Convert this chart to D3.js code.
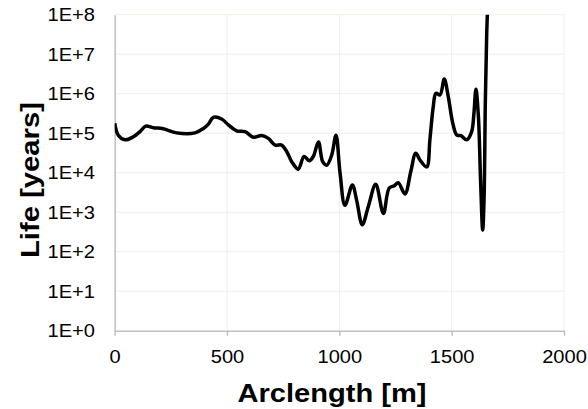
<!DOCTYPE html>
<html><head><meta charset="utf-8">
<script src="https://cdn.jsdelivr.net/npm/d3@7"></script>
<style>body{margin:0;background:#fff}svg{display:block}</style>
</head><body>
<script>
const arclength = [0,16,46,83,113,138,172,216,276,357,395,417,439,476,506,543,580,617,654,684,714,743,766,788,817,843,866,884,907,926,944,966,985,1003,1025,1058,1077,1102,1129,1162,1196,1222,1245,1262,1292,1318,1340,1359,1389,1403,1418,1430,1448,1467,1485,1505,1523,1541,1567,1589,1599,1608,1619,1629,1638,1644,1650,1656,1662];
const life = [178000,89000,68000,81000,110000,151000,138000,129000,102000,102000,132000,170000,251000,229000,162000,115000,110000,79000,87000,74000,50000,50000,34000,19000,12300,25700,20000,25700,60000,19000,15500,28000,89000,10000,1500,4900,2000,480,1400,5100,930,4100,4700,5600,2900,10700,31000,21000,14000,68000,470000,1020000,930000,2340000,830000,178000,89000,87000,68000,110000,316000,1290000,263000,5400,355,2000,690000,34000000,300000000];
const xTicks = [0,500,1000,1500,2000];
const yTicks = [1,10,100,1000,1e4,1e5,1e6,1e7,1e8];
const yTickLabels = ["1E+0","1E+1","1E+2","1E+3","1E+4","1E+5","1E+6","1E+7","1E+8"];

const W=588,H=409;
const m={l:114.7,r:564,t:14.7,b:330.7};
const svg=d3.select("body").append("svg").attr("width",W).attr("height",H);
const x=d3.scaleLinear().domain([0,2000]).range([m.l,m.r]);
const y=d3.scaleLog().domain([1,1e8]).range([m.b,m.t]);
const font="Liberation Sans, Arial, sans-serif";

function stretch(sel,k){
  sel.each(function(){const L=this.getComputedTextLength();
    d3.select(this).attr("textLength",L*k).attr("lengthAdjust","spacingAndGlyphs");});
}

// gridlines
svg.append("g").selectAll("line").data(yTicks.slice(1)).join("line")
  .attr("x1",m.l).attr("x2",m.r).attr("y1",d=>y(d)).attr("y2",d=>y(d))
  .attr("stroke","#efefe8").attr("stroke-width",1);
svg.append("g").selectAll("line").data(xTicks.slice(1)).join("line")
  .attr("x1",d=>x(d)).attr("x2",d=>x(d)).attr("y1",m.t).attr("y2",m.b)
  .attr("stroke","#efefe8").attr("stroke-width",1);

// x axis
const xa=svg.append("g").attr("transform",`translate(0,${m.b})`)
  .call(d3.axisBottom(x).tickValues(xTicks).tickFormat(d3.format("d")).tickSizeInner(5).tickSizeOuter(0).tickPadding(14));
xa.select(".domain").attr("stroke","#bfbfbf").attr("stroke-width",1.5);
xa.selectAll(".tick line").attr("stroke","#bfbfbf").attr("stroke-width",1.5);
xa.selectAll("text").attr("font-family",font).attr("font-size",18.6).attr("fill","#000");
stretch(xa.selectAll("text"),1.08);

// y axis
const ya=svg.append("g").attr("transform",`translate(${m.l},0)`)
  .call(d3.axisLeft(y).tickValues(yTicks).tickFormat((d,i)=>yTickLabels[i]).tickSize(0).tickPadding(19.7));
ya.select(".domain").attr("stroke","#bfbfbf").attr("stroke-width",1.5);
ya.selectAll("text").attr("font-family",font).attr("font-size",18.6).attr("fill","#000");
stretch(ya.selectAll("text"),1.08);

// clip
svg.append("clipPath").attr("id","clip").append("rect")
  .attr("x",m.l).attr("y",m.t).attr("width",m.r-m.l).attr("height",m.b-m.t);

const line=d3.line().x((d,i)=>x(arclength[i])).y(d=>y(d)).curve(d3.curveCatmullRom.alpha(0.5));
svg.append("path").datum(life).attr("clip-path","url(#clip)")
  .attr("d",line).attr("fill","none").attr("stroke","#000").attr("stroke-width",3.5)
  .attr("stroke-linejoin","round");

// titles
svg.append("text").attr("x",332).attr("y",401.5).attr("text-anchor","middle")
  .attr("font-family",font).attr("font-weight","bold").attr("font-size",25.5)
  .attr("textLength",189).attr("lengthAdjust","spacingAndGlyphs").text("Arclength [m]");
svg.append("text").attr("transform",`translate(39,180) rotate(-90)`).attr("text-anchor","middle")
  .attr("font-family",font).attr("font-weight","bold").attr("font-size",26)
  .attr("textLength",156).attr("lengthAdjust","spacingAndGlyphs").text("Life [years]");
</script>
</body></html>
